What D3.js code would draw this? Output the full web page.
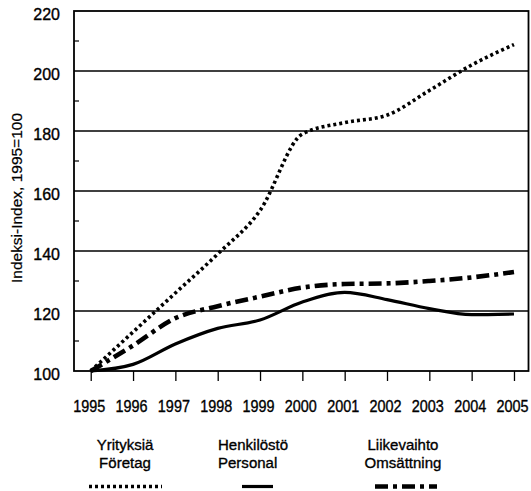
<!DOCTYPE html>
<html>
<head>
<meta charset="utf-8">
<script src="https://cdn.jsdelivr.net/npm/d3@7"></script>
<style>
  body { margin: 0; background: #fff; }
  svg { display: block; font-family: "Liberation Sans", Arial, sans-serif; }
  text { fill: #000; stroke: #000; stroke-width: 0.35px; }
</style>
</head>
<body>
<div id="chart"></div>
<script>
// data
const years = [1995, 1996, 1997, 1998, 1999, 2000, 2001, 2002, 2003, 2004, 2005];
const yritykset = [100, 113, 126, 139, 153.5, 179, 182.8, 185.3, 193.5, 202, 208.8];
const henkilosto = [100, 102.2, 109, 114.2, 117, 123, 126.2, 123.8, 120.8, 118.8, 119];
const liikevaihto = [100, 108.5, 117.6, 121.6, 124.8, 127.8, 129, 129.2, 130, 131.2, 133];
const yTicks = [100, 120, 140, 160, 180, 200, 220];
const yMinor = [110, 130, 150, 170, 190, 210];

const series = [
  { name: ["Yrityksiä", "Företag"], values: yritykset, dash: "3,3", w: 3.6, lx: [89, 162], tx: 125, anchor: "middle" },
  { name: ["Henkilöstö", "Personal"], values: henkilosto, dash: null, w: 3.2, lx: [242, 273], tx: 218, anchor: "start" },
  { name: ["Liikevaihto", "Omsättning"], values: liikevaihto, dash: "13,5,4,5", w: 4.6, lx: [375, 437], tx: 403, anchor: "middle" }
];

const W = 531, H = 491;
const plot = { left: 74, right: 528.5, top: 11, bottom: 371 };

const svg = d3.select("#chart").append("svg")
  .attr("width", W).attr("height", H);

const x = d3.scaleLinear().domain([1994.605, 2005.343]).range([plot.left, plot.right]);
const y = d3.scaleLinear().domain([100, 220]).range([plot.bottom, plot.top]);

// gridlines
svg.append("g").selectAll("line")
  .data(yTicks.slice(1, -1))
  .join("line")
  .attr("x1", plot.left).attr("x2", plot.right)
  .attr("y1", d => y(d)).attr("y2", d => y(d))
  .attr("stroke", "#000").attr("stroke-width", 1.4);

// minor ticks inside the left edge
svg.append("g").selectAll("line")
  .data(yMinor)
  .join("line")
  .attr("x1", plot.left).attr("x2", plot.left + 5)
  .attr("y1", d => y(d)).attr("y2", d => y(d))
  .attr("stroke", "#000").attr("stroke-width", 1.2);

// y axis labels
const yAxis = svg.append("g")
  .attr("transform", `translate(${plot.left},0)`)
  .call(d3.axisLeft(y).tickValues(yTicks).tickSize(0).tickPadding(14));
yAxis.select(".domain").remove();
yAxis.selectAll("text")
  .attr("font-size", 16).attr("fill", "#000")
  .attr("font-family", "Liberation Sans, Arial, sans-serif")
  .attr("dy", "0.55em");

// x axis (labels a little narrower than normal, as in the original)
const xAxis = svg.append("g")
  .attr("transform", `translate(0,${plot.bottom})`)
  .call(d3.axisBottom(x).tickValues(years).tickFormat(d3.format("d")).tickSize(10).tickPadding(20));
xAxis.select(".domain").remove();
xAxis.selectAll("line").attr("stroke", "#000").attr("stroke-width", 1.3);
xAxis.selectAll("text")
  .attr("font-size", 16).attr("fill", "#000")
  .attr("font-family", "Liberation Sans, Arial, sans-serif")
  .attr("transform", "translate(-2,0) scale(0.9,1)");

// frame
svg.append("rect")
  .attr("x", plot.left).attr("y", plot.top)
  .attr("width", plot.right - plot.left).attr("height", plot.bottom - plot.top)
  .attr("fill", "none").attr("stroke", "#000").attr("stroke-width", 1.8);

// y title
svg.append("text")
  .attr("transform", `translate(22,${(113 + 283) / 2}) rotate(-90)`)
  .attr("text-anchor", "middle")
  .attr("font-size", 14)
  .attr("textLength", 170).attr("lengthAdjust", "spacingAndGlyphs")
  .style("stroke-width", "0.2px")
  .text("Indeksi-Index, 1995=100");

// lines
const line = d3.line()
  .x((d, i) => x(years[i]))
  .y(d => y(d))
  .curve(d3.curveMonotoneX);

series.forEach(s => {
  svg.append("path")
    .datum(s.values)
    .attr("d", line)
    .attr("fill", "none")
    .attr("stroke", "#000")
    .attr("stroke-width", s.w)
    .attr("stroke-dasharray", s.dash);
});

// legend
series.forEach(s => {
  const g = svg.append("g").attr("transform", `translate(${s.tx},0) scale(0.97,1)`);
  const t = g.append("text")
    .attr("text-anchor", s.anchor)
    .attr("font-size", 15.5);
  t.append("tspan").attr("x", 0).attr("y", 450.5).text(s.name[0]);
  t.append("tspan").attr("x", 0).attr("y", 468).text(s.name[1]);
  svg.append("line")
    .attr("x1", s.lx[0]).attr("x2", s.lx[1])
    .attr("y1", 486.5).attr("y2", 486.5)
    .attr("stroke", "#000")
    .attr("stroke-width", s.w)
    .attr("stroke-dasharray", s.dash);
});
</script>
</body>
</html>
